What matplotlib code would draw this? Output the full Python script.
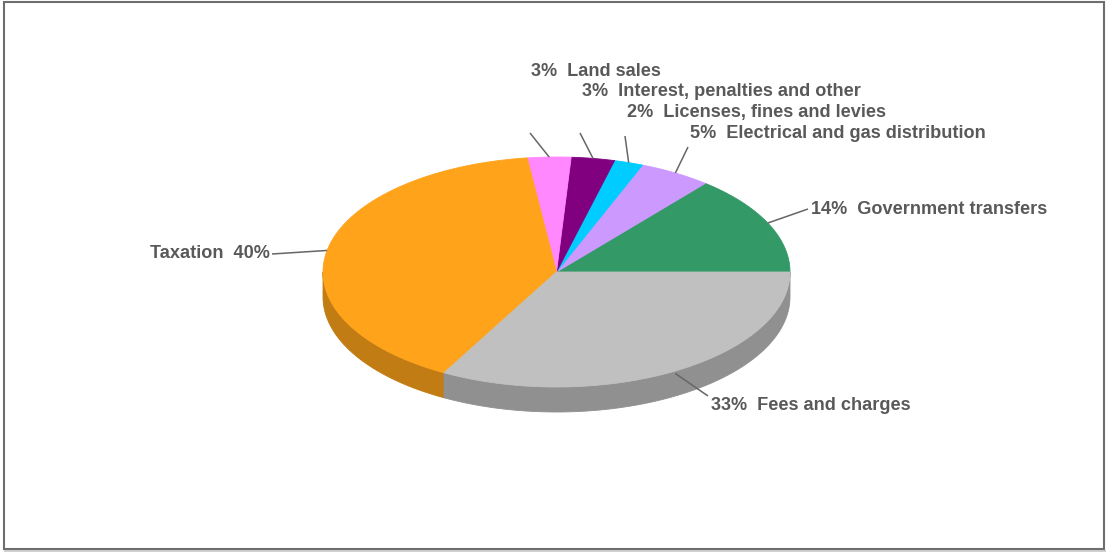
import numpy as np
import matplotlib
matplotlib.use("Agg")
import matplotlib.pyplot as plt
from matplotlib.patches import Polygon, Rectangle

# Revenue sources (percent), counter-clockwise from the 3 o'clock position
categories = [
    "Government transfers",
    "Electrical and gas distribution",
    "Licenses, fines and levies",
    "Interest, penalties and other",
    "Land sales",
    "Taxation",
    "Fees and charges",
]
values = [14, 5, 2, 3, 3, 40, 33]
colors = ["#339966", "#CC99FF", "#00CCFF", "#800080", "#FF88FF", "#FFA31A", "#C0C0C0"]
side_colors = ["#267350", "#9973BF", "#0099BF", "#600060", "#BF66BF", "#C27C14", "#909090"]

W, H = 1106, 552
fig = plt.figure(figsize=(W / 100, H / 100), dpi=100)
ax = fig.add_axes([0, 0, 1, 1])
ax.set_xlim(0, W)
ax.set_ylim(H, 0)
ax.axis("off")

# Tilted pie geometry (pixel space)
cx, cy, rx, ry, depth = 556.5, 272.0, 233.5, 115.0, 25.0


def edge(theta, dy=0.0):
    return cx + rx * np.cos(theta), cy - ry * np.sin(theta) + dy


frac = np.array(values, dtype=float) / np.sum(values)
bounds = np.concatenate([[0.0], np.cumsum(frac)]) * 2 * np.pi

# Side walls (only the front half, angles between pi and 2*pi, is visible)
for i in range(len(values)):
    a0, a1 = bounds[i], bounds[i + 1]
    lo, hi = max(a0, np.pi), min(a1, 2 * np.pi)
    if hi <= lo:
        continue
    t = np.linspace(lo, hi, 200)
    xs, ys = edge(t)
    xb, yb = edge(t[::-1], depth)
    pts = np.column_stack([np.concatenate([xs, xb]), np.concatenate([ys, yb])])
    ax.add_patch(Polygon(pts, closed=True, facecolor=side_colors[i],
                         edgecolor=side_colors[i], lw=0.6, zorder=2))

# Top faces
for i in range(len(values)):
    a0, a1 = bounds[i], bounds[i + 1]
    t = np.linspace(a0, a1, 300)
    xs, ys = edge(t)
    pts = np.column_stack([np.concatenate([[cx], xs]), np.concatenate([[cy], ys])])
    ax.add_patch(Polygon(pts, closed=True, facecolor=colors[i],
                         edgecolor=colors[i], lw=0.6, zorder=3))

# Labels with leader lines: (text anchor x, y, horizontal alignment, line end on text side)
label_pos = {
    "Government transfers": (811, 209, "left", (808, 209)),
    "Electrical and gas distribution": (690, 134, "left", (688, 147)),
    "Licenses, fines and levies": (627, 113, "left", (625, 136)),
    "Interest, penalties and other": (582, 92, "left", (580, 133)),
    "Land sales": (531, 71, "left", (530, 133)),
    "Taxation": (270, 253, "right", (272, 254)),
    "Fees and charges": (711, 405, "left", (708, 396)),
}
for i, name in enumerate(categories):
    mid = 0.5 * (bounds[i] + bounds[i + 1])
    ex, ey = edge(mid)
    if np.sin(mid) < 0:
        ey += depth * 0.1
    tx, ty, ha, (lx, ly) = label_pos[name]
    ax.plot([ex, lx], [ey, ly], color="#666666", lw=1.1, zorder=4,
            solid_capstyle="butt")
    if ha == "left":
        s = f"{values[i]}%  {name}"
    else:
        s = f"{name}  {values[i]}%"
    ax.text(tx, ty, s, ha=ha, va="center", fontsize=13.1, fontweight="bold",
            family="Liberation Sans", color="#595959", zorder=5)

# Frame
ax.add_patch(Rectangle((3.5, 1.5), 1100.5, 547, fill=False,
                       edgecolor="#6E6E6E", lw=1.5, zorder=6))
ax.plot([5, 1105], [550.5, 550.5], color="#D0D0D0", lw=1.5, zorder=5)

fig.savefig("out.png", dpi=100, facecolor="white")
